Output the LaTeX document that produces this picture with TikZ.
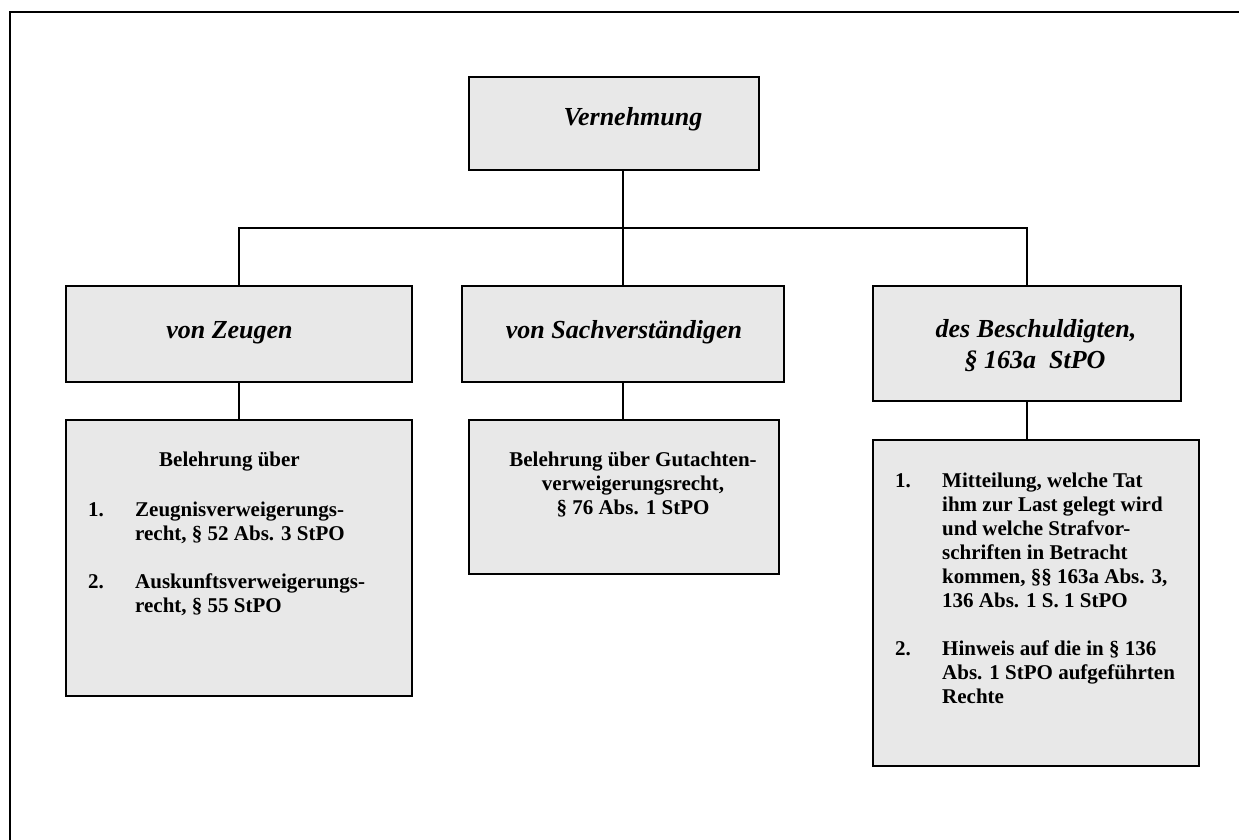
\documentclass[tikz,border=0pt]{standalone}
\usepackage{fontspec}
\setmainfont{Liberation Serif}
\usetikzlibrary{calc}
\definecolor{boxfill}{RGB}{232,232,232}
\tikzset{
  box/.style={draw=black, line width=2pt, fill=boxfill, anchor=north west, inner sep=0pt, outer sep=0pt},
  conn/.style={draw=black, line width=1.5pt},
  head/.style={font=\fontsize{26}{31}\selectfont\bfseries\itshape, anchor=base, inner sep=0pt},
  body/.style={font=\fontsize{21}{24}\selectfont\bfseries, anchor=base west, inner sep=0pt},
  bodyc/.style={body, anchor=base},
  framestyle/.style={line width=2pt, draw=black}
}
\begin{document}
\begin{tikzpicture}[x=1pt, y=-1pt]
\useasboundingbox (0,0) rectangle (1239,839);
\begin{scope}
\clip (0,0) rectangle (1239,839);
\draw[framestyle] (1260,12) -- (10,12) -- (10,860);
\end{scope}

% boxes
\node[box, minimum width=290, minimum height=93] (vern) at (469,77) {};
\node[box, minimum width=346, minimum height=96] (zeug) at (66,286) {};
\node[box, minimum width=322, minimum height=96] (sach) at (462,286) {};
\node[box, minimum width=308, minimum height=115] (besc) at (873,286) {};
\node[box, minimum width=346, minimum height=276] (zeugL) at (66,420) {};
\node[box, minimum width=310, minimum height=154] (sachL) at (469,420) {};
\node[box, minimum width=326, minimum height=326] (bescL) at (873,440) {};

% connectors
\coordinate (hub) at (623,228);
\draw[conn] (vern.south -| hub) -- (hub);
\draw[conn] (zeug.north) |- (hub) -| (besc.north);
\draw[conn] (hub) -- (sach.north);
\draw[conn] (zeug.south) -- (zeugL.north);
\draw[conn] (sach.south) -- (sach.south |- sachL.north);
\draw[conn] (besc.south) -- (besc.south |- bescL.north);

% headings
\node[head] (tVern) at (633,125) {Vernehmung};
\node[head] (tZeug) at (229.5,338) {von Zeugen};
\node[head] (tSach) at (624,338) {von Sachverständigen};
\node[head] (tBes1) at (1036,337) {des Beschuldigten,};
\node[head] (tBes2) at (1035,368) {§ 163a\ \ StPO};

% left lower box
\node[bodyc] (zl0) at (229.5,466) {Belehrung über};
\node[body] (zl1n) at (88,516) {1.};
\node[body] (zl1a) at (135,516) {Zeugnisverweigerungs-};
\node[body] (zl1b) at (135,540) {recht, § 52 Abs. 3 StPO};
\node[body] (zl2n) at (88,588) {2.};
\node[body] (zl2a) at (135,588) {Auskunftsverweigerungs-};
\node[body] (zl2b) at (135,612) {recht, § 55 StPO};

% middle lower box
\node[bodyc] (sl1) at (633,466) {Belehrung über Gutachten-};
\node[bodyc] (sl2) at (633,490) {verweigerungsrecht,};
\node[bodyc] (sl3) at (633,514) {§ 76 Abs. 1 StPO};

% right lower box
\node[body] (bl1n) at (895,487) {1.};
\node[body] (bl1a) at (942,487) {Mitteilung, welche Tat};
\node[body] (bl1b) at (942,511) {ihm zur Last gelegt wird};
\node[body] (bl1c) at (942,535) {und welche Strafvor-};
\node[body] (bl1d) at (942,559) {schriften in Betracht};
\node[body] (bl1e) at (942,583) {kommen, §§ 163a Abs. 3,};
\node[body] (bl1f) at (942,607) {136 Abs. 1 S. 1 StPO};
\node[body] (bl2n) at (895,655) {2.};
\node[body] (bl2a) at (942,655) {Hinweis auf die in § 136};
\node[body] (bl2b) at (942,679) {Abs. 1 StPO aufgeführten};
\node[body] (bl2c) at (942,703) {Rechte};
\end{tikzpicture}
\end{document}
